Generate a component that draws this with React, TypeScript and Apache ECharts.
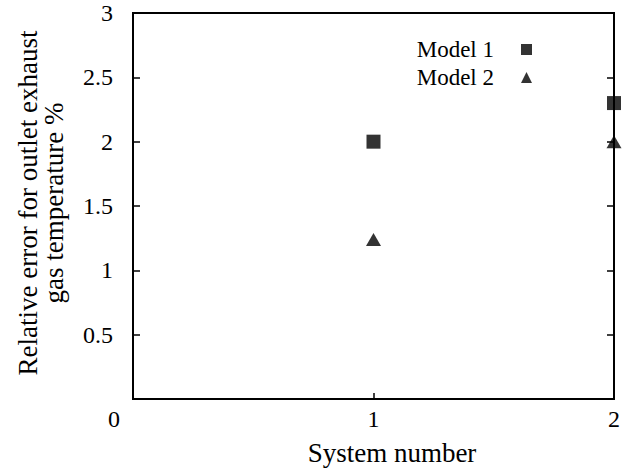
import React, { useEffect, useRef } from "react";
import * as echarts from "echarts";

const seriesNames = ["Model 1", "Model 2"];
const systemNumbers = [1, 2];
const model1Values = [2.0, 2.3];
const model2Values = [1.24, 2.0];
const xTicks = [0, 1, 2];
const yTicks = [0, 0.5, 1, 1.5, 2, 2.5, 3];
const xTitle = "System number";
const yTitle = "Relative error for outlet exhaust\ngas temperature %";

const FONT = "Liberation Serif";

export default function App() {
  const ref = useRef<HTMLDivElement>(null);
  useEffect(() => {
    document.body.style.margin = "0";
    const chart = echarts.init(ref.current!, null, { renderer: "svg" });
    const axisLine = () => ({ show: true, onZero: false, lineStyle: { color: "#000", width: 2 } });
    const xMin = xTicks[0];
    const xMax = xTicks[xTicks.length - 1];
    const yMin = yTicks[0];
    const yMax = yTicks[yTicks.length - 1];
    chart.setOption({
      animation: false,
      backgroundColor: "#fff",
      textStyle: { fontFamily: FONT, color: "#000" },
      grid: { left: 133, top: 13, right: 9, bottom: 70, show: true, borderColor: "#000", borderWidth: 2 },
      legend: {
        orient: "vertical",
        align: "right",
        right: 86,
        top: 32,
        itemWidth: 11,
        itemHeight: 11,
        itemGap: 3,
        selectedMode: false,
        data: [
          { name: seriesNames[0], icon: "rect" },
          { name: seriesNames[1], icon: "triangle" },
        ],
        textStyle: {
          fontFamily: FONT,
          fontSize: 23,
          lineHeight: 25,
          color: "#000",
          padding: [0, 22, 0, 0],
        },
      },
      graphic: [
        {
          type: "text",
          x: 114,
          y: 419,
          silent: true,
          style: {
            text: String(xTicks[0]),
            fontFamily: FONT,
            fontSize: 24,
            fill: "#000",
            align: "center",
            verticalAlign: "middle",
          },
        },
        {
          type: "text",
          x: 392,
          y: 453,
          silent: true,
          style: {
            text: xTitle,
            fontFamily: FONT,
            fontSize: 27,
            fill: "#000",
            align: "center",
            verticalAlign: "middle",
          },
        },
        {
          type: "text",
          x: 41,
          y: 203,
          rotation: Math.PI / 2,
          silent: true,
          style: {
            text: yTitle,
            fontFamily: FONT,
            fontSize: 27,
            lineHeight: 26,
            fill: "#000",
            align: "center",
            verticalAlign: "middle",
          },
        },
      ],
      xAxis: [
        {
          type: "value",
          min: xMin,
          max: xMax,
          interval: 1,
          axisLine: axisLine(),
          axisTick: { show: true, inside: true, length: 6, lineStyle: { color: "#000", width: 1.5 } },
          splitLine: { show: false },
          axisLabel: { margin: 8, fontSize: 24, fontFamily: FONT, color: "#000", showMinLabel: false },
        },
        {
          type: "value",
          position: "top",
          min: xMin,
          max: xMax,
          interval: 1,
          axisLine: axisLine(),
          axisTick: { show: false },
          axisLabel: { show: false },
          splitLine: { show: false },
        },
      ],
      yAxis: [
        {
          type: "value",
          min: yMin,
          max: yMax,
          interval: 0.5,
          axisLine: axisLine(),
          axisTick: { show: true, inside: true, length: 7, lineStyle: { color: "#000", width: 1.5 } },
          splitLine: { show: false },
          axisLabel: { margin: 20, fontSize: 24, fontFamily: FONT, color: "#000", showMinLabel: false },
        },
        {
          type: "value",
          position: "right",
          min: yMin,
          max: yMax,
          interval: 0.5,
          axisLine: axisLine(),
          axisTick: { show: true, inside: true, length: 7, lineStyle: { color: "#000", width: 1.5 } },
          axisLabel: { show: false },
          splitLine: { show: false },
        },
      ],
      series: [
        {
          name: "frame",
          type: "custom",
          silent: true,
          clip: false,
          z: 1,
          data: [[xMin, yMin]],
          renderItem: (_params: any, api: any) => {
            const p0 = api.coord([xMin, yMin]);
            const p1 = api.coord([xMax, yMax]);
            const left = p0[0];
            const bottom = p0[1];
            const right = p1[0];
            const top = p1[1];
            const t = 2;
            const style = { fill: "#000", stroke: null };
            return {
              type: "group",
              children: [
                { type: "rect", shape: { x: left - 1, y: top - 1, width: right - left + t, height: t }, style },
                { type: "rect", shape: { x: left - 1, y: bottom - 1, width: right - left + t, height: t }, style },
                { type: "rect", shape: { x: left - 1, y: top - 1, width: t, height: bottom - top + t }, style },
                { type: "rect", shape: { x: right - 1, y: top - 1, width: t, height: bottom - top + t }, style },
              ],
            };
          },
        },
        {
          name: seriesNames[0],
          type: "scatter",
          symbol: "rect",
          symbolSize: 14,
          z: 3,
          itemStyle: { color: "#000" },
          data: systemNumbers.map((x, i) => [x, model1Values[i]]),
        },
        {
          name: seriesNames[1],
          type: "scatter",
          symbol: "triangle",
          symbolSize: [15, 13],
          z: 3,
          itemStyle: { color: "#000" },
          data: systemNumbers.map((x, i) => [x, model2Values[i]]),
        },
      ],
    });
    return () => chart.dispose();
  }, []);
  return <div ref={ref} style={{ width: 623, height: 469 }} />;
}
